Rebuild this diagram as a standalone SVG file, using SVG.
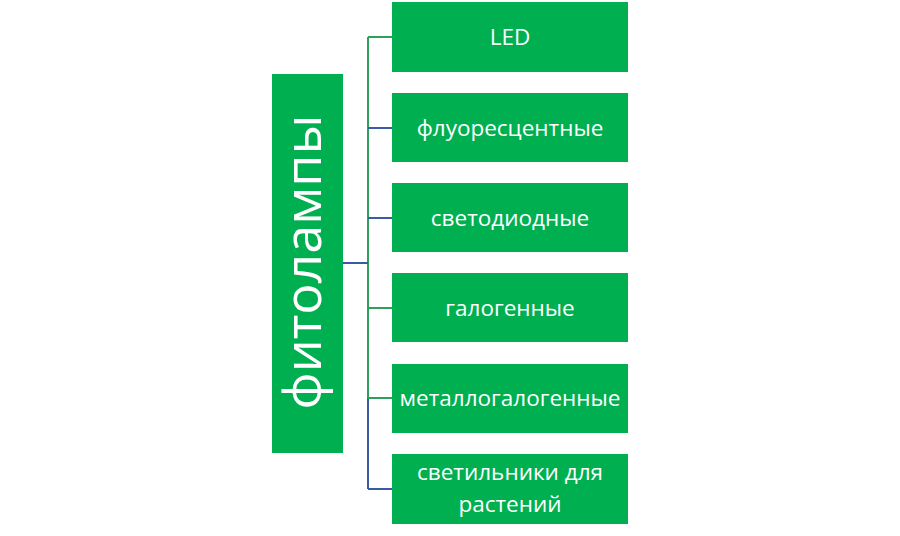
<svg xmlns="http://www.w3.org/2000/svg" width="900" height="536" viewBox="0 0 900 536">
<style>
.box{fill:#00B050}
.t{fill:#fff;font-family:"Open Sans","Liberation Sans",sans-serif;font-size:22.5px;text-anchor:middle}
.g{stroke:#2FA05A;stroke-width:2;fill:none}
.b{stroke:#3C5BA5;stroke-width:2;fill:none}
</style>
<rect width="900" height="536" fill="#fff"/>
<g id="connectors">
<path class="g" d="M368 37 V398"/>
<path class="b" d="M368 398 V489"/>
<path class="g" d="M368 37 H392"/>
<path class="b" d="M368 128 H392"/>
<path class="b" d="M368 218 H392"/>
<path class="g" d="M368 308 H392"/>
<path class="g" d="M368 398 H392"/>
<path class="b" d="M368 489 H392"/>
<path class="b" d="M343 263 H368" stroke="#2C7F7A"/>
</g>
<g id="root">
<rect class="box" x="272" y="74" width="71" height="379"/>
<text transform="translate(321,262) rotate(-90)" fill="#fff" font-family="Open Sans, Liberation Sans, sans-serif" font-size="52" text-anchor="middle">фитолампы</text>
</g>
<g id="n1"><rect class="box" x="392" y="2" width="236" height="70"/><text class="t" x="510" y="45">LED</text></g>
<g id="n2"><rect class="box" x="392" y="93" width="236" height="69"/><text class="t" x="510" y="136">флуоресцентные</text></g>
<g id="n3"><rect class="box" x="392" y="183" width="236" height="69"/><text class="t" x="510" y="226">светодиодные</text></g>
<g id="n4"><rect class="box" x="392" y="273" width="236" height="69"/><text class="t" x="510" y="316">галогенные</text></g>
<g id="n5"><rect class="box" x="392" y="364" width="236" height="69"/><text class="t" x="510" y="406">металлогалогенные</text></g>
<g id="n6"><rect class="box" x="392" y="454" width="236" height="70"/><text class="t" x="510" y="480">светильники для</text><text class="t" x="510" y="512">растений</text></g>
</svg>
